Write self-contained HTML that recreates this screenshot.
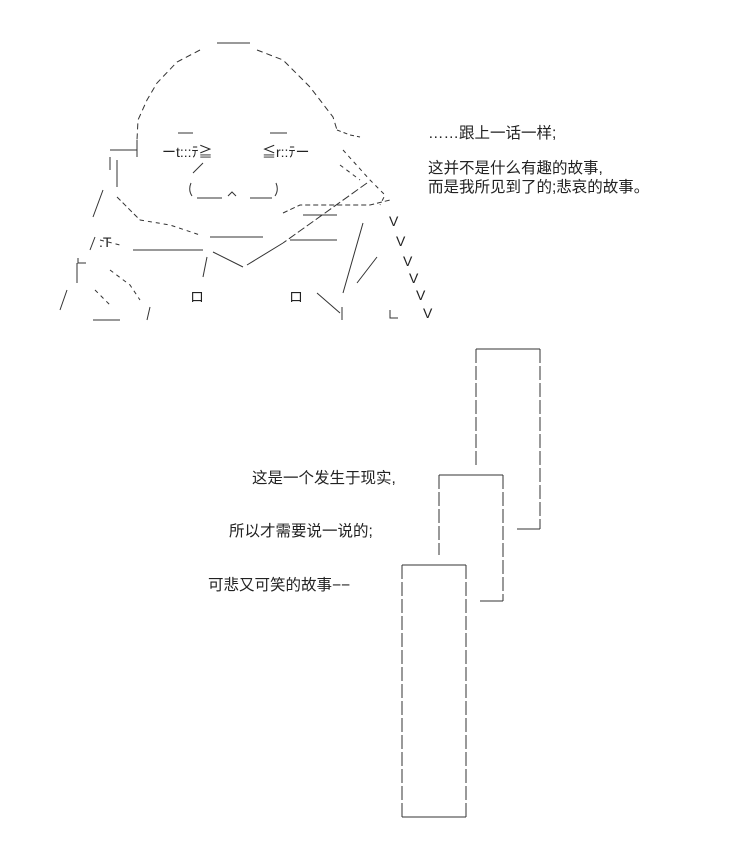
<!DOCTYPE html>
<html><head><meta charset="utf-8"><style>
body{margin:0;background:#fff;width:751px;height:856px;overflow:hidden}
svg{position:absolute;left:0;top:0}
text{font-family:"Liberation Sans","Noto Sans CJK SC",sans-serif;fill:#222}
</style></head><body>
<svg width="751" height="856" viewBox="0 0 751 856">
<g stroke="#333" stroke-width="1" fill="none">
<path d="M217 43 H250"/>
<path d="M200 50 L177 62 L157 83 L147 100 L138 120 L137 140" stroke-dasharray="6 4"/>
<path d="M257 50 L283 60 L310 87 L333 117 L337 130" stroke-dasharray="6 4"/>
<path d="M178 133 H193 M270 133 H287"/>
<path d="M203 163 L193 173"/>
<path d="M191 183 Q188 190 192 196 M276 183 Q279 190 275 196"/>
<path d="M197 198 H222 M228 196 L232 192 L236 196 M250 198 H272"/>
<path d="M137 140 V157 M110 150 H137 M110 157 V170 M117 160 V187"/>
<path d="M103 190 L93 217 M95 237 L90 250 M78 258 V263 H86 M77 263 V283 M67 290 L60 310"/>
<path d="M117 197 L140 220" stroke-dasharray="5 3"/>
<path d="M133 250 H203 M210 237 H263 M303 215 H337 M290 240 H337"/>
<path d="M367 183 L283 243" stroke-dasharray="8 3"/>
<path d="M213 252 L243 267 M247 265 L283 243"/>
<path d="M207 257 L203 277"/>
<path d="M317 293 L340 313 M342 307 V320"/>
<path d="M363 223 L343 293 M377 257 L357 283"/>
<path d="M93 320 H120 M150 307 L147 320"/>
<path d="M390 310 V318 H398"/>
<path d="M343 150 L370 180 L385 195 L380 205 M340 165 L360 180" stroke-dasharray="4 4"/>
<path d="M140 220 L170 225 L200 235" stroke-dasharray="4 4"/>
<path d="M100 240 L120 245 M110 270 L130 285 L140 300 M95 290 L110 305" stroke-dasharray="4 4"/>
<path d="M337 130 L350 135 L360 137" stroke-dasharray="4 3"/>
<path d="M283 213 L300 205 L370 205 L390 200" stroke-dasharray="5 3"/>
</g>
<g font-size="14">
<text x="162" y="157">ーt:::ﾃ≧</text>
<text x="262" y="157">≦r::ﾃー</text>
<text x="190" y="302">ロ</text>
<text x="289" y="302">ロ</text>
<text x="389" y="226">V</text>
<text x="396" y="246">V</text>
<text x="403" y="266">V</text>
<text x="409" y="283">V</text>
<text x="416" y="300">V</text>
<text x="423" y="318">V</text>
<text x="99" y="247">.T</text>
</g>
<g stroke="#333" stroke-width="1" fill="none">
<path d="M476 349 H540"/>
<path d="M476 349 V465 M540 349 V529" stroke-dasharray="14 3"/>
<path d="M517 529 H540"/>
<path d="M439 475 H503"/>
<path d="M439 475 V555 M503 475 V601" stroke-dasharray="14 3"/>
<path d="M480 601 H503"/>
<path d="M402 565 H466 M402 817 H466"/>
<path d="M402 565 V817 M466 565 V817" stroke-dasharray="14 3"/>
</g>
<g font-size="15.5">
<text x="428" y="138">……跟上一话一样;</text>
<text x="428" y="173">这并不是什么有趣的故事,</text>
<text x="428" y="192">而是我所见到了的;悲哀的故事。</text>
<text x="252" y="483">这是一个发生于现实,</text>
<text x="229" y="536">所以才需要说一说的;</text>
<text x="208" y="590">可悲又可笑的故事−−</text>
</g>
</svg>
</body></html>
